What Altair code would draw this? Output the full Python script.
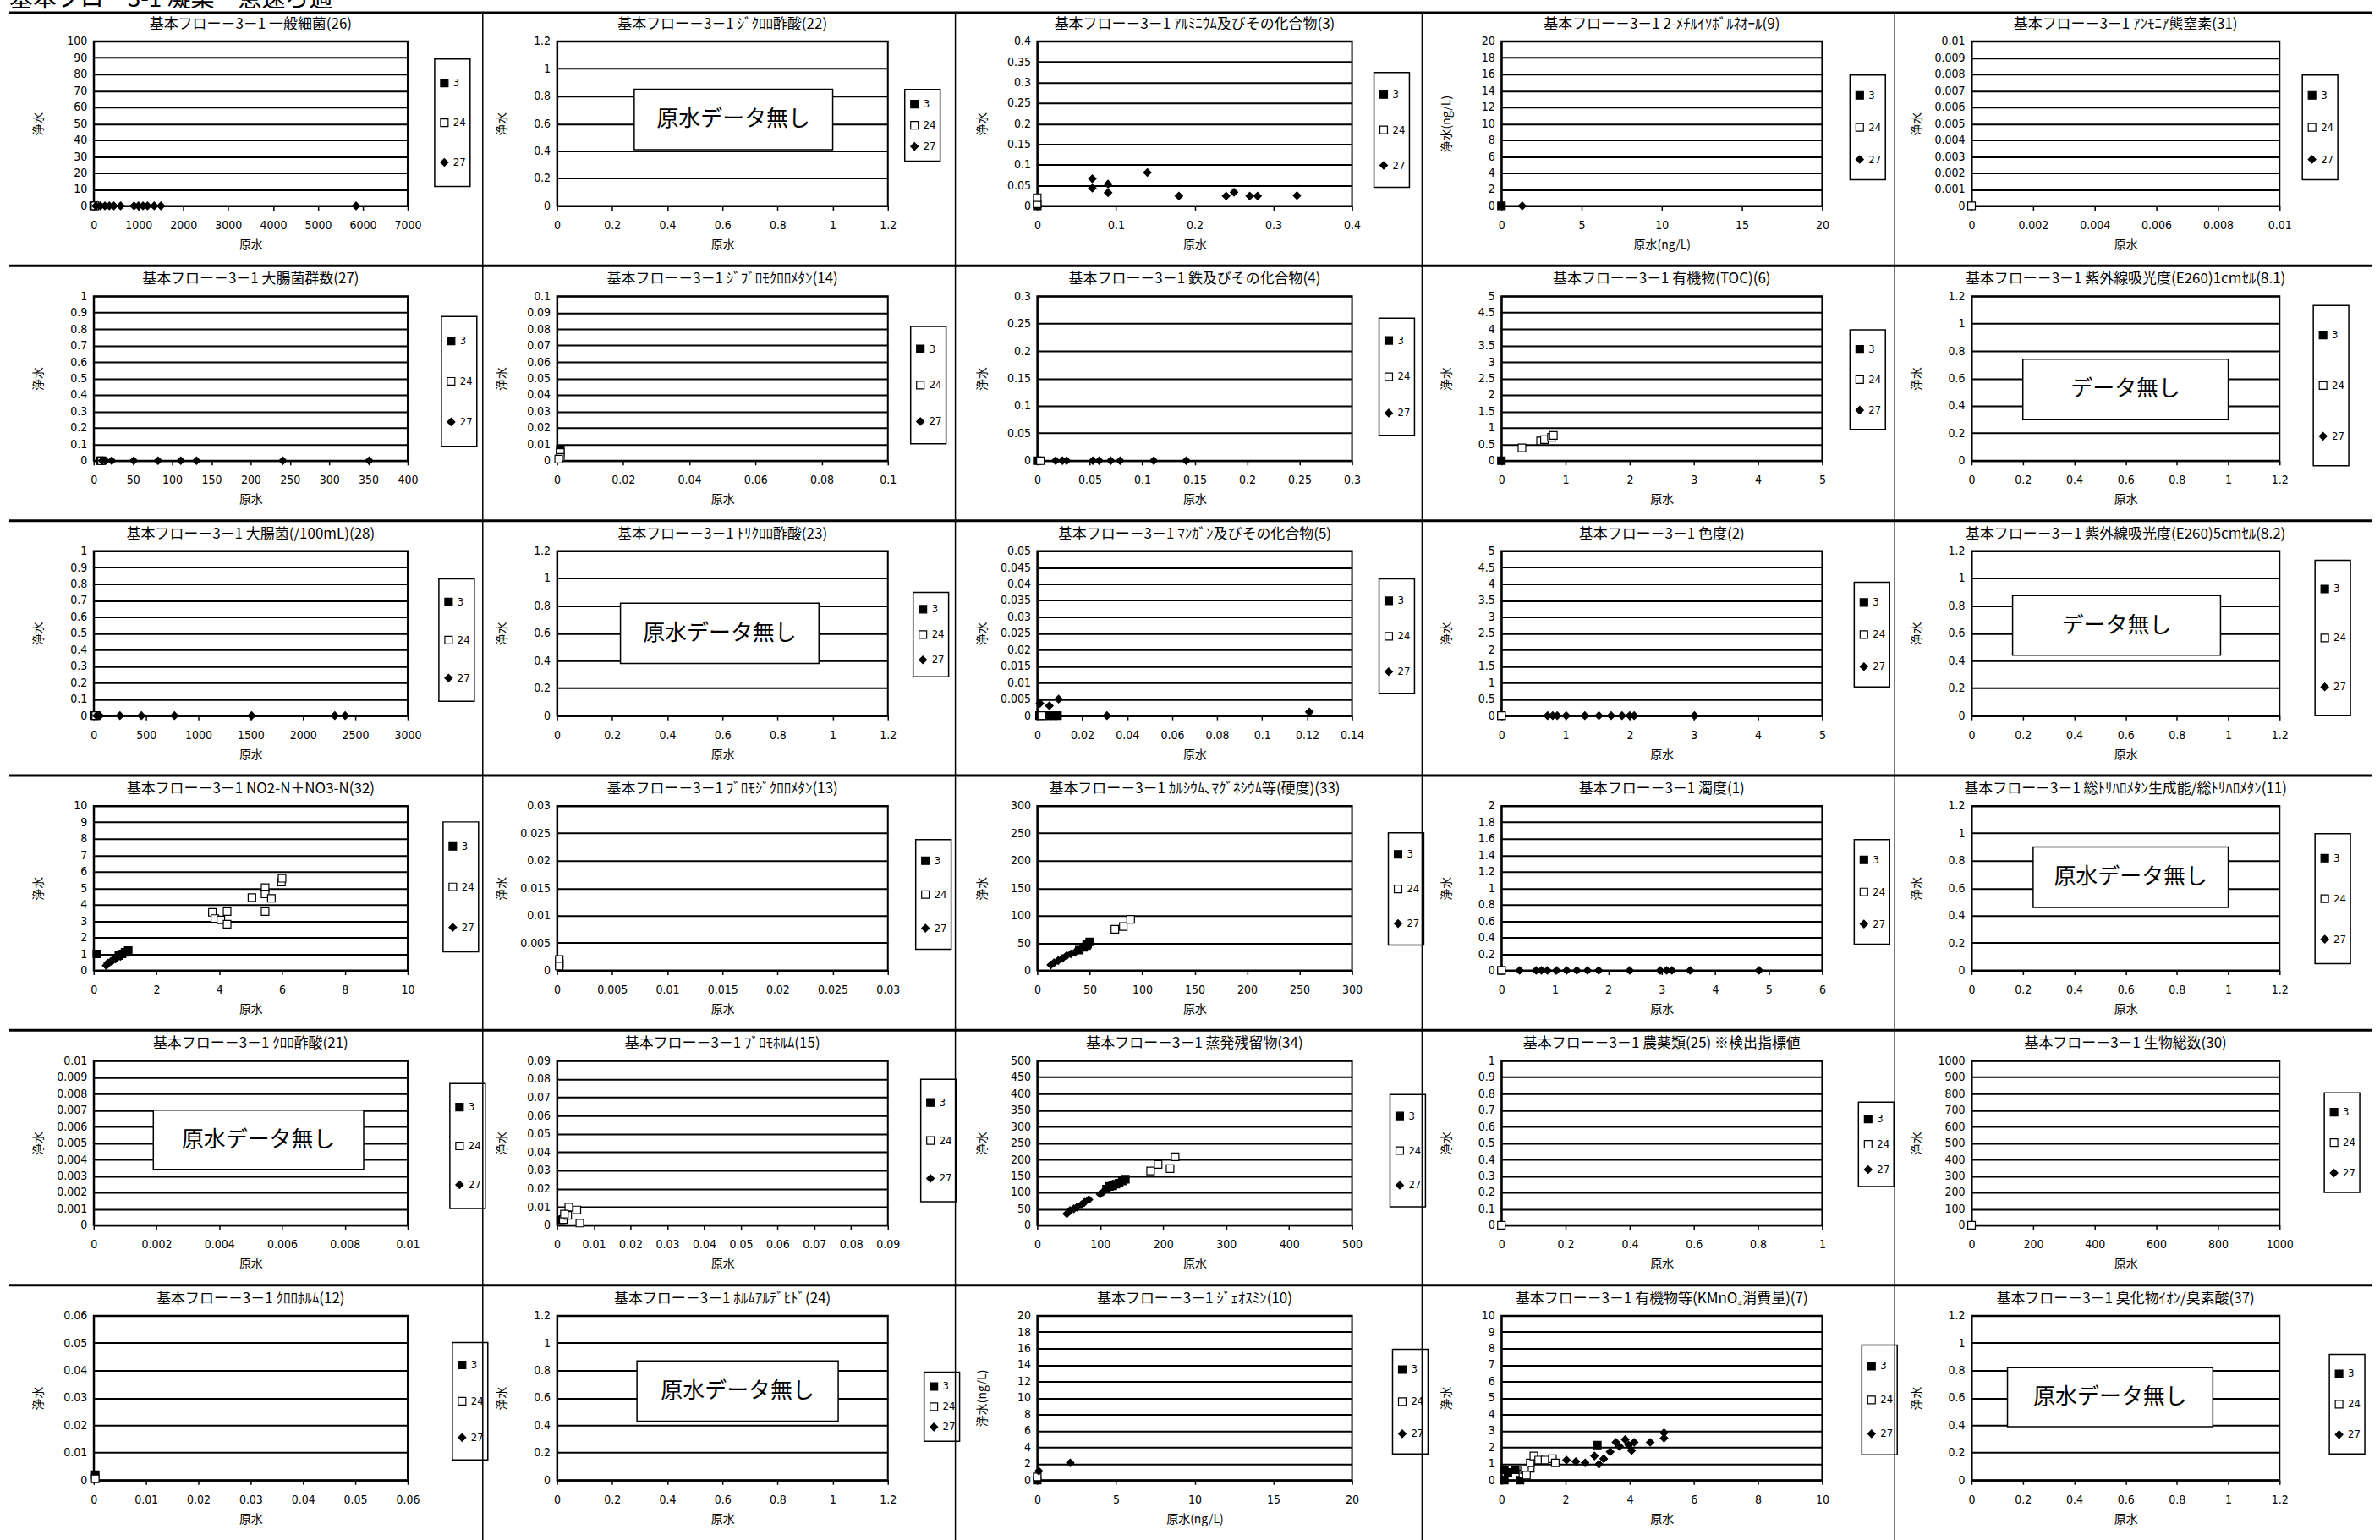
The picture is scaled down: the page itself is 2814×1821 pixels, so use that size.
import altair as alt
import pandas as pd

JP = "Noto Sans CJK JP"
NUM = "Liberation Sans Narrow, DejaVu Sans Condensed, Liberation Sans, Arial, sans-serif"

HEADER = "基本フロー3-1 凝集・急速ろ過"
PREFIX = "基本フロー－3－1 "
SERIES = ["3", "24", "27"]
SERIES_FILL = ["black", "white", "black"]
SERIES_STROKE = ["black", "black", "black"]
SERIES_SHAPE = ["square", "square", "diamond"]

# panel titles, row by row (5 per row)
TITLES = [
    "一般細菌(26)", "ｼﾞｸﾛﾛ酢酸(22)", "ｱﾙﾐﾆｳﾑ及びその化合物(3)", "2-ﾒﾁﾙｲｿﾎﾞﾙﾈｵｰﾙ(9)", "ｱﾝﾓﾆｱ態窒素(31)",
    "大腸菌群数(27)", "ｼﾞﾌﾞﾛﾓｸﾛﾛﾒﾀﾝ(14)", "鉄及びその化合物(4)", "有機物(TOC)(6)", "紫外線吸光度(E260)1cmｾﾙ(8.1)",
    "大腸菌(/100mL)(28)", "ﾄﾘｸﾛﾛ酢酸(23)", "ﾏﾝｶﾞﾝ及びその化合物(5)", "色度(2)", "紫外線吸光度(E260)5cmｾﾙ(8.2)",
    "NO2-N＋NO3-N(32)", "ﾌﾞﾛﾓｼﾞｸﾛﾛﾒﾀﾝ(13)", "ｶﾙｼｳﾑ､ﾏｸﾞﾈｼｳﾑ等(硬度)(33)", "濁度(1)", "総ﾄﾘﾊﾛﾒﾀﾝ生成能/総ﾄﾘﾊﾛﾒﾀﾝ(11)",
    "ｸﾛﾛ酢酸(21)", "ﾌﾞﾛﾓﾎﾙﾑ(15)", "蒸発残留物(34)", "農薬類(25) ※検出指標値", "生物総数(30)",
    "ｸﾛﾛﾎﾙﾑ(12)", "ﾎﾙﾑｱﾙﾃﾞﾋﾄﾞ(24)", "ｼﾞｪｵｽﾐﾝ(10)", "有機物等(KMnO₄消費量)(7)", "臭化物ｲｵﾝ/臭素酸(37)",
]

# axis ranges (max value and tick step) for raw water (x) and treated water (y)
X_MAX = [7000, 1.2, 0.4, 20, 0.01, 400, 0.1, 0.3, 5, 1.2, 3000, 1.2, 0.14, 5, 1.2,
         10, 0.03, 300, 6, 1.2, 0.01, 0.09, 500, 1, 1000, 0.06, 1.2, 20, 10, 1.2]
X_STEP = [1000, 0.2, 0.1, 5, 0.002, 50, 0.02, 0.05, 1, 0.2, 500, 0.2, 0.02, 1, 0.2,
          2, 0.005, 50, 1, 0.2, 0.002, 0.01, 100, 0.2, 200, 0.01, 0.2, 5, 2, 0.2]
Y_MAX = [100, 1.2, 0.4, 20, 0.01, 1, 0.1, 0.3, 5, 1.2, 1, 1.2, 0.05, 5, 1.2,
         10, 0.03, 300, 2, 1.2, 0.01, 0.09, 500, 1, 1000, 0.06, 1.2, 20, 10, 1.2]
Y_STEP = [10, 0.2, 0.05, 2, 0.001, 0.1, 0.01, 0.05, 0.5, 0.2, 0.1, 0.2, 0.005, 0.5, 0.2,
          1, 0.005, 50, 0.2, 0.2, 0.001, 0.01, 50, 0.1, 100, 0.01, 0.2, 2, 1, 0.2]
UNIT = {3: "(ng/L)", 27: "(ng/L)"}

# measured points: (series, raw water, treated water)
ippan_saikin = [("3", 0, 0), ("24", 30, 0),
                ("27", 50, 0), ("27", 150, 0), ("27", 250, 0), ("27", 350, 0), ("27", 450, 0),
                ("27", 600, 0), ("27", 900, 0), ("27", 1000, 0), ("27", 1100, 0), ("27", 1200, 0),
                ("27", 1350, 0), ("27", 1500, 0), ("27", 5850, 0)]
dikuroro_sakusan = []
aluminium = [("3", 0, 0), ("24", 0, 0.005), ("24", 0, 0.02),
             ("27", 0.07, 0.066), ("27", 0.07, 0.043), ("27", 0.09, 0.053), ("27", 0.09, 0.032),
             ("27", 0.14, 0.081), ("27", 0.18, 0.024), ("27", 0.24, 0.024), ("27", 0.25, 0.033),
             ("27", 0.27, 0.024), ("27", 0.28, 0.024), ("27", 0.33, 0.025)]
mib = [("3", 0, 0), ("27", 1.3, 0)]
ammonia = [("24", 0, 0)]
daichokin_gun = [("3", 8, 0), ("24", 10, 0),
                 ("27", 11, 0), ("27", 15, 0), ("27", 23, 0), ("27", 51, 0), ("27", 82, 0),
                 ("27", 111, 0), ("27", 131, 0), ("27", 241, 0), ("27", 351, 0)]
dibromochloro = [("3", 0.001, 0.007), ("24", 0.001, 0.005), ("24", 0.001, 0.002), ("24", 0.0005, 0.001)]
tetsu = [("3", 0, 0), ("24", 0.003, 0),
         ("27", 0.0175, 0), ("27", 0.024, 0), ("27", 0.028, 0), ("27", 0.053, 0), ("27", 0.059, 0),
         ("27", 0.07, 0), ("27", 0.079, 0), ("27", 0.111, 0), ("27", 0.142, 0)]
toc = [("3", 0, 0), ("24", 0.32, 0.39), ("24", 0.61, 0.6), ("24", 0.67, 0.64),
       ("24", 0.78, 0.71), ("24", 0.81, 0.77)]
uv_1cm = []
daichokin = [("3", 10, 0), ("24", 20, 0),
             ("27", 29, 0), ("27", 58, 0), ("27", 251, 0), ("27", 456, 0), ("27", 772, 0),
             ("27", 1509, 0), ("27", 2304, 0), ("27", 2403, 0)]
torikuroro_sakusan = []
mangan = [("3", 0.001, 0), ("3", 0.003, 0), ("3", 0.005, 0), ("3", 0.007, 0), ("3", 0.009, 0),
          ("24", 0.002, 0),
          ("27", 0.0012, 0.0037), ("27", 0.0054, 0.003), ("27", 0.0095, 0.005),
          ("27", 0.031, 0), ("27", 0.121, 0.0011)]
shikido = [("3", 0, 0), ("24", 0, 0),
           ("27", 0.72, 0), ("27", 0.8, 0), ("27", 0.87, 0), ("27", 1.01, 0), ("27", 1.3, 0),
           ("27", 1.52, 0), ("27", 1.71, 0), ("27", 1.88, 0), ("27", 2.0, 0), ("27", 2.07, 0),
           ("27", 3.01, 0)]
uv_5cm = []
no2_no3 = [("3", 0.1, 1.0), ("3", 0.8, 0.9), ("3", 0.9, 1.0), ("3", 1.0, 1.1), ("3", 1.1, 1.2),
           ("27", 0.4, 0.3), ("27", 0.45, 0.45), ("27", 0.55, 0.55), ("27", 0.6, 0.6),
           ("27", 0.7, 0.7), ("27", 0.75, 0.8), ("27", 0.85, 0.85),
           ("24", 3.78, 3.53), ("24", 3.86, 3.15), ("24", 4.05, 3.07), ("24", 4.25, 3.58),
           ("24", 4.25, 2.81), ("24", 5.04, 4.43), ("24", 5.46, 5.03), ("24", 5.46, 4.65),
           ("24", 5.66, 4.38), ("24", 5.46, 3.58), ("24", 5.98, 5.37), ("24", 6.0, 5.6)]
bromodichloro = [("3", 0.0002, 0.0012), ("24", 0.0002, 0.002), ("24", 0.0002, 0.0008)]
kodo = [("27", 13, 10), ("27", 16, 14), ("27", 20, 18), ("27", 24, 22), ("27", 28, 27),
        ("27", 32, 30), ("27", 36, 33),
        ("3", 40, 37), ("3", 44, 42), ("3", 47, 45), ("3", 48, 48), ("3", 50, 52),
        ("24", 74, 75), ("24", 82, 80), ("24", 89, 93)]
dakudo = [("3", 0, 0), ("24", 0, 0),
          ("27", 0.34, 0), ("27", 0.65, 0), ("27", 0.75, 0), ("27", 0.86, 0), ("27", 1.03, 0),
          ("27", 1.22, 0), ("27", 1.41, 0), ("27", 1.61, 0), ("27", 1.82, 0), ("27", 2.4, 0),
          ("27", 2.97, 0), ("27", 3.09, 0), ("27", 3.19, 0), ("27", 3.53, 0), ("27", 4.82, 0)]
thm = []
kuroro_sakusan = []
bromoform = [("3", 0.001, 0.003), ("24", 0.0017, 0.0031), ("24", 0.0029, 0.0054), ("24", 0.0032, 0.0099),
             ("24", 0.0054, 0.0084), ("24", 0.0062, 0.0012), ("24", 0.002, 0.0061)]
jouhatsu = [("27", 47, 35), ("27", 52, 45), ("27", 58, 50), ("27", 63, 55), ("27", 70, 62),
            ("27", 75, 70), ("27", 82, 78), ("27", 100, 95), ("27", 105, 102),
            ("3", 110, 110), ("3", 115, 118), ("3", 120, 120), ("3", 125, 125), ("3", 130, 128),
            ("3", 135, 135), ("3", 140, 140),
            ("24", 180, 165), ("24", 192, 185), ("24", 211, 172), ("24", 219, 208)]
noyaku = [("24", 0, 0)]
seibutsu = [("24", 0, 0)]
chloroform = [("3", 0.0003, 0.002), ("24", 0.0003, 0.0005)]
formaldehyde = []
geosmin = [("3", 0, 0), ("24", 0, 0.4), ("27", 0.1, 1.1), ("27", 2.1, 2.1)]
kmno4 = [("3", 0.09, 0.63), ("3", 0.2, 0.47), ("3", 0.09, 0), ("3", 0.58, 0), ("3", 0.43, 0.63),
         ("3", 2.99, 2.13),
         ("24", 0.67, 0.38), ("24", 0.9, 0.72), ("24", 0.9, 1.05), ("24", 1.01, 1.47),
         ("24", 1.16, 1.22), ("24", 1.36, 1.22), ("24", 1.59, 1.3), ("24", 1.68, 1.05),
         ("24", 0.72, 0.63), ("24", 0.78, 0.3),
         ("27", 2.03, 1.22), ("27", 2.32, 1.13), ("27", 2.61, 1.05), ("27", 2.9, 1.47),
         ("27", 3.04, 0.97), ("27", 3.19, 1.3), ("27", 3.39, 1.72), ("27", 3.57, 2.3),
         ("27", 3.68, 2.05), ("27", 3.86, 2.47), ("27", 3.97, 2.13), ("27", 4.14, 2.3),
         ("27", 4.06, 1.8), ("27", 4.64, 2.3), ("27", 5.07, 2.55), ("27", 5.07, 2.88)]
shukabutsu = []

POINTS = [ippan_saikin, dikuroro_sakusan, aluminium, mib, ammonia,
          daichokin_gun, dibromochloro, tetsu, toc, uv_1cm,
          daichokin, torikuroro_sakusan, mangan, shikido, uv_5cm,
          no2_no3, bromodichloro, kodo, dakudo, thm,
          kuroro_sakusan, bromoform, jouhatsu, noyaku, seibutsu,
          chloroform, formaldehyde, geosmin, kmno4, shukabutsu]

# "no data" notes: (panel, label, x from, x to, y from, y to) in axis units
NO_DATA = [
    (1, "原水データ無し", 0.28, 1.0, 0.41, 0.85),
    (9, "データ無し", 0.2, 1.0, 0.3, 0.74),
    (11, "原水データ無し", 0.23, 0.95, 0.38, 0.82),
    (14, "データ無し", 0.16, 0.97, 0.44, 0.875),
    (19, "原水データ無し", 0.24, 1.0, 0.46, 0.9),
    (20, "原水データ無し", 0.0019, 0.0086, 0.0034, 0.0070),
    (26, "原水データ無し", 0.29, 1.02, 0.43, 0.87),
    (29, "原水データ無し", 0.14, 0.94, 0.39, 0.82),
]

# layout of each panel
COL_W = [372, 392, 373, 380, 365]
PLOT_H = 195
ROW_PITCH = 302
SEP_TOP = [-34, -36, -36, -36, -36, -36]
SEP_X = [None, -88, -97, -94, -91]
LEG_X = [404, 412, 399, 413, 392,
         412, 419, 405, 413, 405,
         409, 422, 405, 418, 407,
         414, 425, 416, 418, 407,
         422, 431, 418, 423, 418,
         425, 435, 421, 427, 424]
LEG_Y = [24, 60, 40, 43, 43,
         27, 39, 29, 43, 14,
         36, 52, 36, 40, 14,
         22, 43, 35, 43, 36,
         30, 25, 43, 52, 41,
         35, 70, 43, 38, 49]
LEG_GAP = [47, 25, 42, 38, 38,
           48, 43, 43, 36, 60,
           45, 30, 42, 38, 58,
           48, 40, 41, 38, 48,
           46, 45, 41, 30, 36,
           43, 24, 38, 40, 36]

PLAIN_NUMBER = "'' + datum.value"


def ticks(vmax, step):
    n = int(round(vmax / step))
    return [round(k * step, 10) for k in range(n + 1)]


def panel(i):
    r, c = divmod(i, 5)
    unit = UNIT.get(i, "")
    xscale = alt.Scale(domain=[0, X_MAX[i]], nice=False, zero=False)
    yscale = alt.Scale(domain=[0, Y_MAX[i]], nice=False, zero=False)
    xaxis = alt.Axis(values=ticks(X_MAX[i], X_STEP[i]), labelExpr=PLAIN_NUMBER,
                     title="原水" + unit, titleY=39, titleBaseline="top")
    yaxis = alt.Axis(values=ticks(Y_MAX[i], Y_STEP[i]), labelExpr=PLAIN_NUMBER,
                     title="浄水" + unit, titleX=-58, titleY=PLOT_H / 2)
    legend = alt.Legend(title=None, orient="none", legendX=LEG_X[i], legendY=LEG_Y[i] - 3,
                        clipHeight=LEG_GAP[i], rowPadding=0, padding=5,
                        strokeColor="black", fillColor="white")
    pts = pd.DataFrame(POINTS[i], columns=["series", "raw", "treated"])
    one = pd.DataFrame({"k": [0]})
    layers = []

    # panel frame lines
    if c == 0:
        layers.append(
            alt.Chart(one).mark_rule(color="black", strokeWidth=3).encode(
                x=alt.value(-100), x2=alt.value(2700), y=alt.value(SEP_TOP[r])))
    else:
        layers.append(
            alt.Chart(one).mark_rule(color="black", strokeWidth=1.5).encode(
                x=alt.value(SEP_X[c]), y=alt.value(SEP_TOP[r]),
                y2=alt.value(SEP_TOP[r] + ROW_PITCH)))
    if i == 0:
        layers.append(
            alt.Chart(one).mark_text(text=HEADER, font=JP, fontSize=28, align="left",
                                     baseline="bottom", color="black").encode(
                x=alt.value(-100), y=alt.value(-35)))

    # panel title
    layers.append(
        alt.Chart(one).mark_text(text=PREFIX + TITLES[i], font=JP, fontSize=17, align="center",
                                 baseline="middle", color="black").encode(
            x=alt.value(COL_W[c] / 2), y=alt.value(-20)))

    layers.append(
        alt.Chart(pts).mark_point(filled=True, size=80, strokeWidth=1.2, opacity=1).encode(
            x=alt.X("raw:Q", scale=xscale, axis=xaxis),
            y=alt.Y("treated:Q", scale=yscale, axis=yaxis),
            fill=alt.Fill("series:N", scale=alt.Scale(domain=SERIES, range=SERIES_FILL),
                          legend=legend),
            stroke=alt.Stroke("series:N", scale=alt.Scale(domain=SERIES, range=SERIES_STROKE),
                              legend=legend),
            shape=alt.Shape("series:N", scale=alt.Scale(domain=SERIES, range=SERIES_SHAPE),
                            legend=legend),
        ))

    boxes = [b for b in NO_DATA if b[0] == i]
    if boxes:
        bdf = pd.DataFrame([{"label": b[1], "x1": b[2], "x2": b[3], "y1": b[4], "y2": b[5]}
                            for b in boxes])
        layers.append(
            alt.Chart(bdf).mark_rect(fill="white", stroke="black", strokeWidth=1.5).encode(
                x=alt.X("x1:Q", scale=xscale, axis=xaxis), x2="x2:Q",
                y=alt.Y("y1:Q", scale=yscale, axis=yaxis), y2="y2:Q"))
        layers.append(
            alt.Chart(bdf).transform_calculate(
                cx="(datum.x1 + datum.x2) / 2", cy="(datum.y1 + datum.y2) / 2"
            ).mark_text(font=JP, fontSize=26, color="black").encode(
                x=alt.X("cx:Q", scale=xscale, axis=xaxis),
                y=alt.Y("cy:Q", scale=yscale, axis=yaxis),
                text="label:N"))

    return alt.layer(*layers).properties(width=COL_W[c], height=PLOT_H)


panels = [panel(i) for i in range(30)]

chart = (
    alt.concat(*panels, columns=5, spacing={"row": ROW_PITCH - PLOT_H, "column": 177},
               bounds="flush", align="each")
    .resolve_scale(x="independent", y="independent", fill="independent",
                   stroke="independent", shape="independent")
    .resolve_legend(fill="independent", stroke="independent", shape="independent")
    .properties(padding={"left": 8, "top": -17, "right": 6, "bottom": 0}, background="white")
    .configure_view(stroke="black", strokeWidth=2)
    .configure_axis(labelFont=NUM, labelFontSize=14, labelColor="black",
                    titleFont=JP, titleFontSize=14, titleFontWeight="normal", titleColor="black",
                    domainColor="black", domainWidth=2, tickColor="black", tickWidth=1.5,
                    gridColor="black", gridWidth=2, gridOpacity=1,
                    labelOverlap=False, labelFlush=False)
    .configure_axisX(grid=False, tickSize=5, labelPadding=11, minExtent=30, maxExtent=30)
    .configure_axisY(grid=True, ticks=False, tickSize=0, labelPadding=8,
                     minExtent=44, maxExtent=44)
    .configure_legend(strokeColor="black", strokeWidth=1.5, labelFont=NUM, labelFontSize=13,
                      labelColor="black", symbolSize=80, symbolStrokeWidth=1.2, labelOffset=4)
)

chart.save("out.html", embed_options={"renderer": "svg", "actions": False})
